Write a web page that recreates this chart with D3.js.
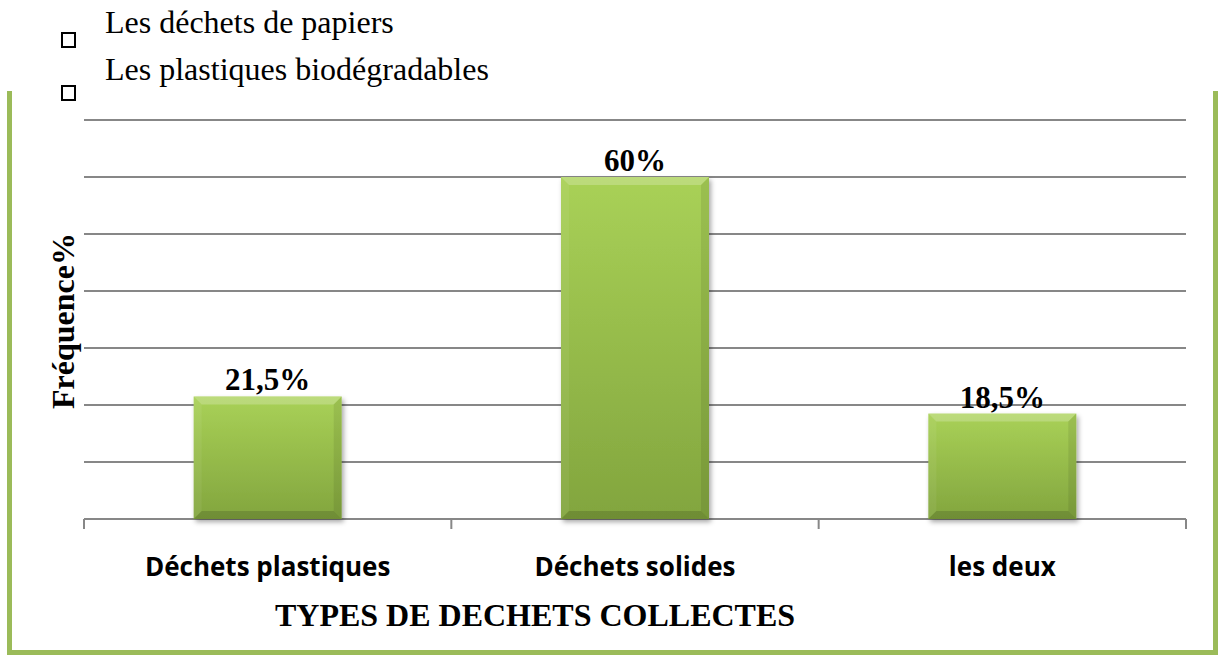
<!DOCTYPE html>
<html><head><meta charset="utf-8">
<script src="https://cdn.jsdelivr.net/npm/d3@7"></script>
<style>html,body{margin:0;padding:0;background:#fff;}svg{display:block;}</style>
</head><body>
<svg id="c" width="1219" height="655"></svg>
<script>
const categories = ["Déchets plastiques", "Déchets solides", "les deux"];
const values = [21.5, 60, 18.5];
const valueLabels = ["21,5%", "60%", "18,5%"];
const yTicks = [0, 10, 20, 30, 40, 50, 60, 70];
const legendItems = ["Les déchets de papiers", "Les plastiques biodégradables"];
const yTitle = "Fréquence%";
const xTitle = "TYPES DE DECHETS COLLECTES";

(function () {
const svg = d3.select("#c");
const W = 1219, H = 655;
const pL = 84, pR = 1186, pT = 120, pB = 519;
const serif = "'Liberation Serif', 'Times New Roman', Times, serif";

const x = d3.scaleBand().domain(categories).range([pL, pR]).paddingInner(0.6).paddingOuter(0.3);
const y = d3.scaleLinear().domain([0, 70]).range([pB, pT]);

const defs = svg.append("defs");
const g = defs.append("linearGradient").attr("id", "barg").attr("x1", 0).attr("y1", 0).attr("x2", 0).attr("y2", 1);
g.append("stop").attr("offset", "0%").attr("stop-color", "#a9d157");
g.append("stop").attr("offset", "100%").attr("stop-color", "#82a53e");
const f = defs.append("filter").attr("id", "sh").attr("x", "-10%").attr("y", "-10%").attr("width", "130%").attr("height", "130%");
f.append("feDropShadow").attr("dx", 2).attr("dy", 3).attr("stdDeviation", 2.5).attr("flood-color", "#000").attr("flood-opacity", 0.35);

// border
const bc = "#9bbb59";
svg.append("rect").attr("x", 7).attr("y", 91).attr("width", 5).attr("height", H - 91).attr("fill", bc);
svg.append("rect").attr("x", 1213).attr("y", 91).attr("width", 5).attr("height", H - 91).attr("fill", bc);
svg.append("rect").attr("x", 7).attr("y", 650).attr("width", 1211).attr("height", 5).attr("fill", bc);

// legend
legendItems.forEach((t, i) => {
  const by = [33, 86][i];
  svg.append("rect").attr("x", 62).attr("y", by).attr("width", 13).attr("height", 14)
    .attr("fill", "none").attr("stroke", "#000").attr("stroke-width", 2);
  svg.append("text").attr("x", 105).attr("y", [33, 80][i]).text(t)
    .attr("font-family", serif).attr("font-size", 32).attr("fill", "#000");
});

// gridlines
svg.append("g").selectAll("line").data(yTicks).join("line")
  .attr("x1", pL).attr("x2", pR).attr("y1", d => y(d)).attr("y2", d => y(d))
  .attr("stroke", "#878787").attr("stroke-width", 2);

// x-axis ticks
const bounds = [pL].concat(categories.map((c, i) => pL + (pR - pL) / categories.length * (i + 1)));
svg.append("g").selectAll("line").data(bounds).join("line")
  .attr("x1", d => d).attr("x2", d => d).attr("y1", pB).attr("y2", pB + 10)
  .attr("stroke", "#878787").attr("stroke-width", 2);

// bars
const bw = 148;
const bars = svg.append("g");
categories.forEach((c, i) => {
  const cx = x(c) + x.bandwidth() / 2;
  const bx = cx - bw / 2, byy = y(values[i]), bh = y(0) - y(values[i]);
  const gg = bars.append("g");
  gg.append("rect").attr("x", bx).attr("y", byy).attr("width", bw).attr("height", bh)
    .attr("fill", "url(#barg)").attr("filter", "url(#sh)");
  const b = 8;
  const poly = (pts, fill) => gg.append("polygon").attr("points", pts.map(p => p.join(",")).join(" ")).attr("fill", fill);
  poly([[bx, byy], [bx + bw, byy], [bx + bw - b, byy + b], [bx + b, byy + b]], "rgba(255,255,255,0.22)");
  poly([[bx, byy], [bx + b, byy + b], [bx + b, byy + bh - b], [bx, byy + bh]], "rgba(255,255,255,0.06)");
  poly([[bx + bw, byy], [bx + bw, byy + bh], [bx + bw - b, byy + bh - b], [bx + bw - b, byy + b]], "rgba(0,0,0,0.08)");
  poly([[bx, byy + bh], [bx + b, byy + bh - b], [bx + bw - b, byy + bh - b], [bx + bw, byy + bh]], "rgba(0,0,0,0.14)");
  svg.append("text").attr("x", cx).attr("y", byy - 6).attr("text-anchor", "middle")
    .attr("font-family", serif).attr("font-weight", "bold")
    .attr("font-size", 31).attr("fill", "#000").text(valueLabels[i]);
  svg.append("text").attr("x", cx).attr("y", 576).attr("text-anchor", "middle")
    .attr("font-family", "'Open Sans', 'Liberation Sans', sans-serif").attr("font-weight", "bold")
    .attr("font-size", 26).attr("fill", "#000").text(c);
});

// axis titles
svg.append("text").attr("x", 535).attr("y", 626).attr("text-anchor", "middle")
  .attr("font-family", serif).attr("font-weight", "bold")
  .attr("font-size", 32).attr("fill", "#000").text(xTitle);
svg.append("text").attr("transform", "translate(74,321) rotate(-90)").attr("text-anchor", "middle")
  .attr("font-family", serif).attr("font-weight", "bold")
  .attr("font-size", 32).attr("fill", "#000").text(yTitle);
})();
</script>
</body></html>
